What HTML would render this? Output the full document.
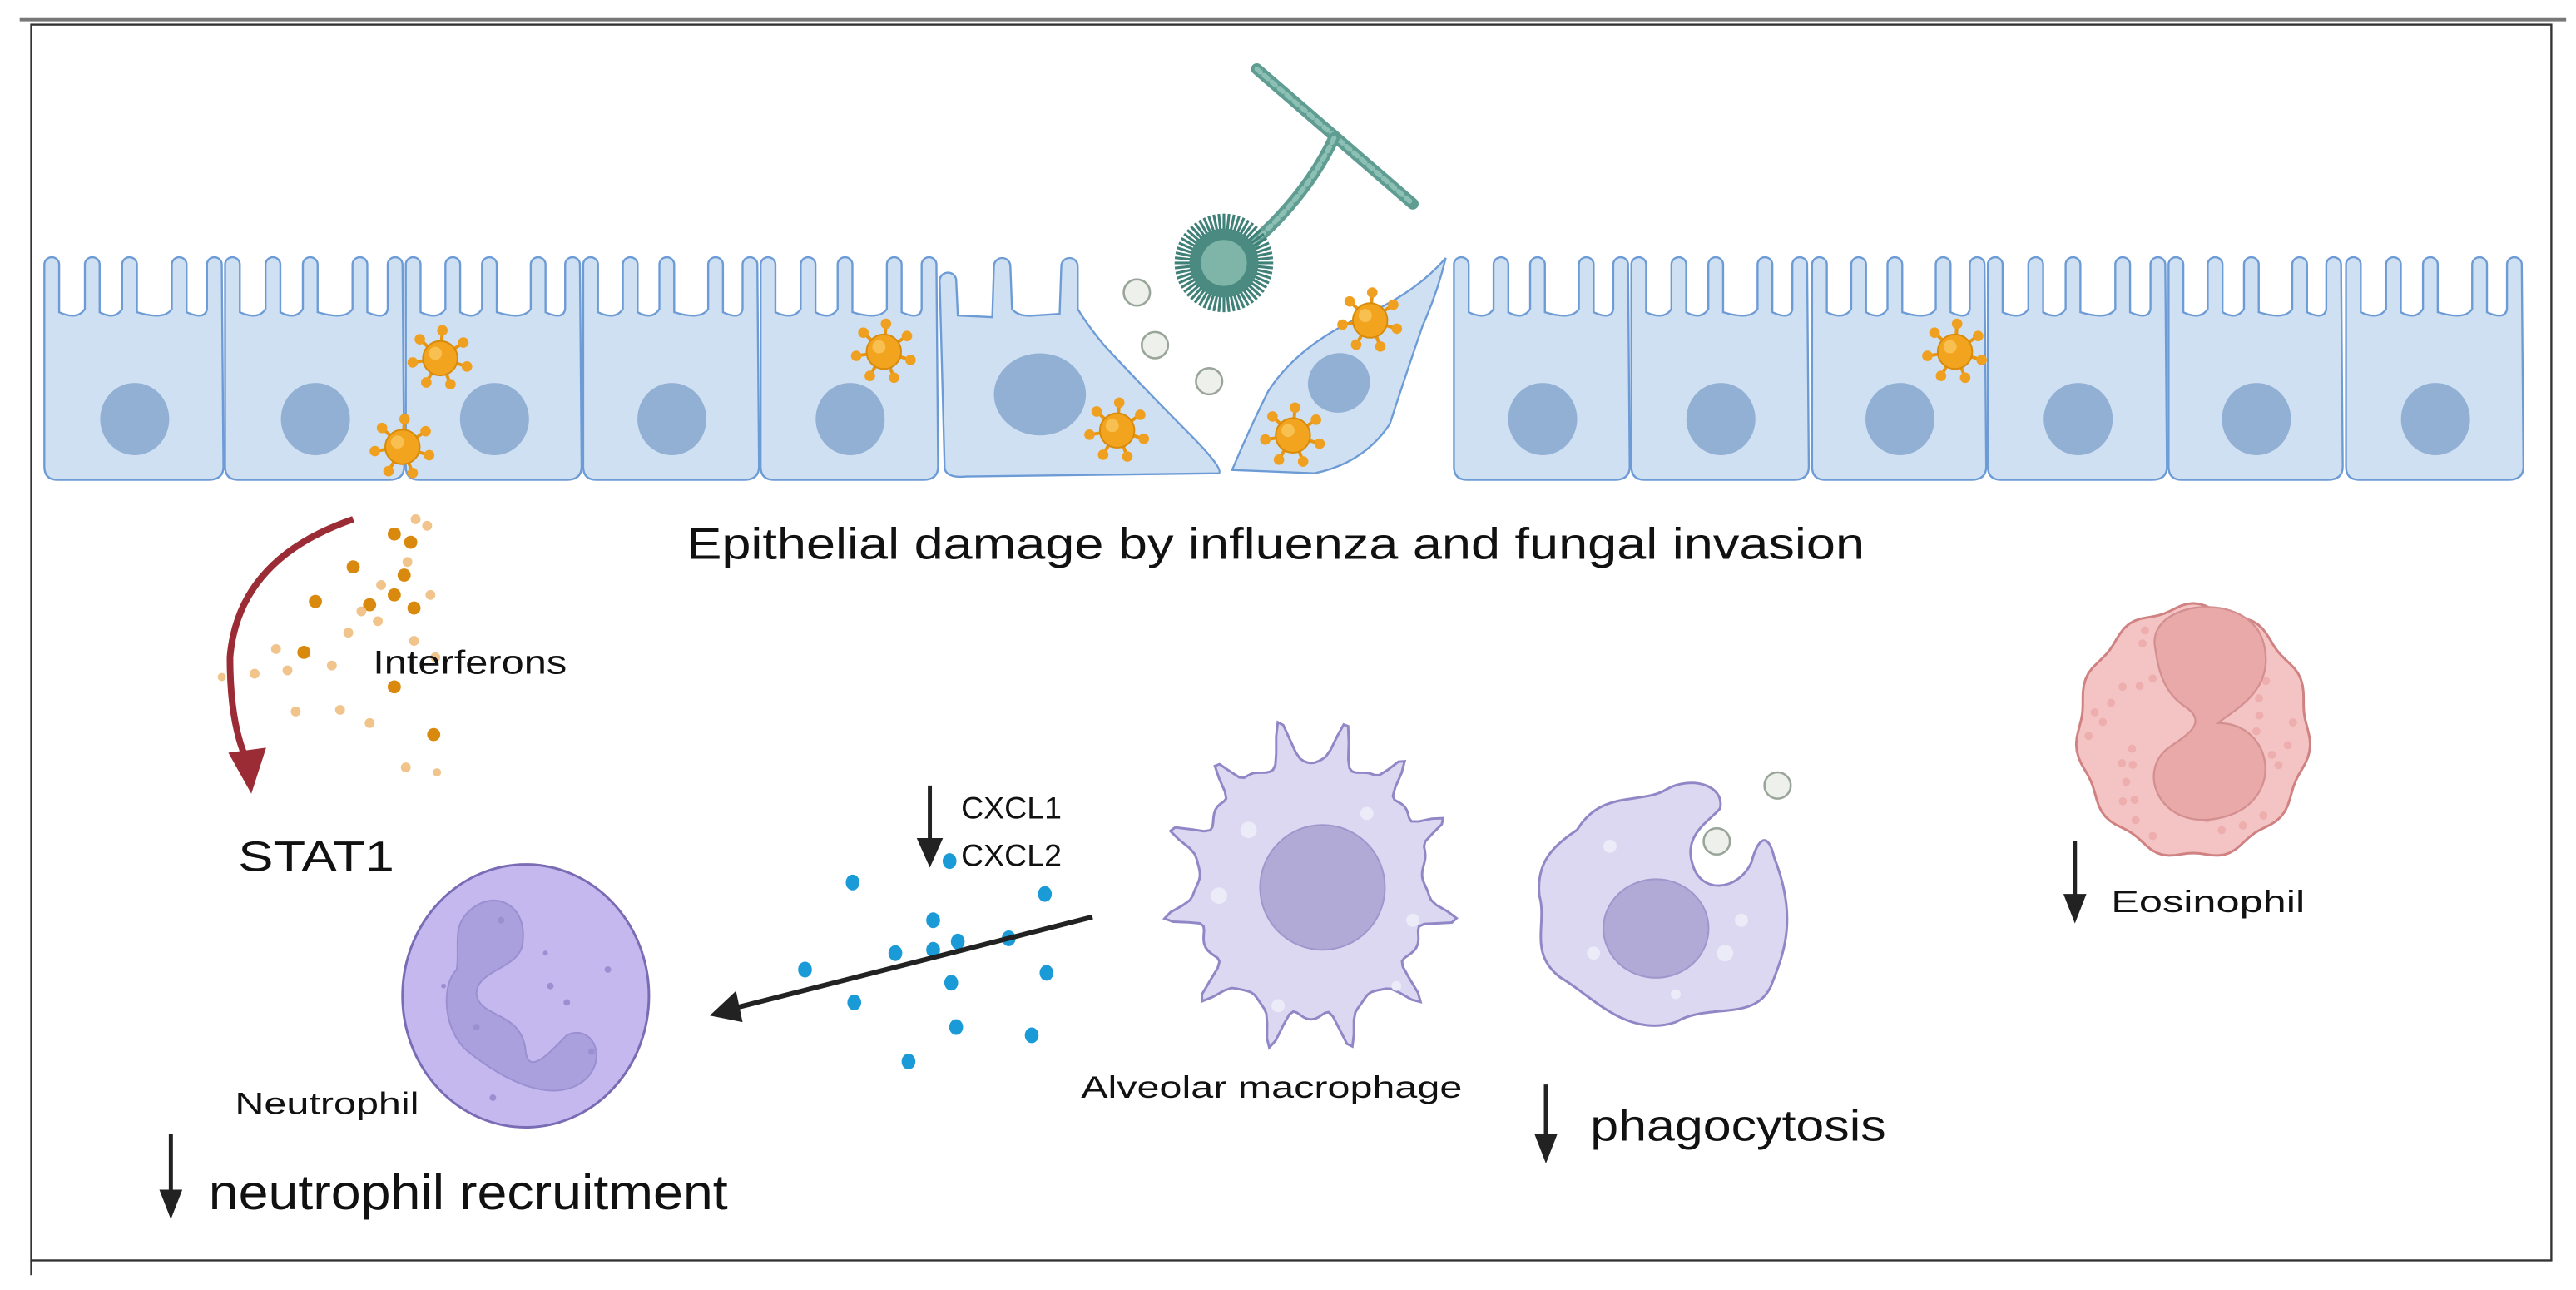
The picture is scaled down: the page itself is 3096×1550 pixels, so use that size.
<!DOCTYPE html>
<html><head><meta charset="utf-8"><style>
html,body{margin:0;padding:0;background:#fff;}
svg{display:block;}
text{font-family:"Liberation Sans",sans-serif;fill:#111;}
</style></head><body>
<svg id="s" width="3096" height="1550" viewBox="0 0 1568 785" preserveAspectRatio="none" xmlns="http://www.w3.org/2000/svg">
<defs>
<marker id="ah" viewBox="0 0 10 10" refX="9" refY="5" markerWidth="6" markerHeight="6" orient="auto"><path d="M0,0 L10,5 L0,10 Z" fill="#222"/></marker>
</defs>
<!-- frame -->
<line x1="12" y1="12" x2="1562" y2="12" stroke="#777" stroke-width="2"/>
<rect x="19" y="15" width="1534" height="752" fill="none" stroke="#333" stroke-width="1.2"/>
<line x1="19" y1="767" x2="19" y2="776" stroke="#333" stroke-width="1.2"/>
<g id="cells"></g>
<!-- damaged cell 1 -->
<path d="M575,285 L572,172 A5,5 0 0 1 582,170 L583,192 L604,193 L605,162 A5,5 0 0 1 615,162 L616,188 Q620,193 630,192 L645,191 L646,162 A5,5 0 0 1 656,162 L656,188 Q662,198 672,210 Q700,240 722,262 Q745,285 742,288 L588,290 Q576,291 575,285 Z" fill="#cfe0f2" stroke="#6d9bd6" stroke-width="1.2"/>
<ellipse cx="633" cy="240" rx="28" ry="25" fill="#92afd4"/>
<!-- damaged cell 2 -->
<path d="M750,286 Q760,262 772,238 Q790,210 830,192 Q862,178 880,157 Q875,178 866,198 Q855,230 846,258 Q830,282 800,288 Z" fill="#cfe0f2" stroke="#6d9bd6" stroke-width="1.2"/>
<ellipse cx="815" cy="233" rx="19" ry="18" transform="rotate(-20 815 233)" fill="#92afd4"/>
<!-- fungus -->
<g stroke="#5f9c92" fill="none" stroke-linecap="round">
<path d="M765,42 L860,124" stroke-width="7"/>
<path d="M765,42 L860,124" stroke-width="3" stroke="#8cc0b4" stroke-dasharray="3 3"/>
<path d="M812,84 Q795,120 760,150" stroke-width="7"/>
<path d="M812,84 Q795,120 760,150" stroke-width="3" stroke="#8cc0b4" stroke-dasharray="3 3"/>
</g>
<g id="fung"></g>
<!-- spores -->
<g fill="#eef0ec" stroke="#9aa59a" stroke-width="1.3">
<circle cx="692" cy="178" r="8"/><circle cx="703" cy="210" r="8"/><circle cx="736" cy="232" r="8"/>
<circle cx="1082" cy="478" r="8"/><circle cx="1045" cy="512" r="8"/>
</g>
<g id="virus"></g>
<text x="418" y="340" font-size="27" textLength="717" lengthAdjust="spacingAndGlyphs">Epithelial damage by influenza and fungal invasion</text>
<!-- interferons -->
<g id="ifn"></g>
<path d="M215,316 Q145,340 140,400 Q140,440 150,462" fill="none" stroke="#9b2c35" stroke-width="4"/>
<path d="M139,458 L162,455 L153,483 Z" fill="#9b2c35"/>
<text x="227" y="410" font-size="20" textLength="118" lengthAdjust="spacingAndGlyphs">Interferons</text>
<text x="145" y="530" font-size="26" textLength="95" lengthAdjust="spacingAndGlyphs">STAT1</text>
<!-- neutrophil -->
<ellipse cx="320" cy="606" rx="75" ry="80" fill="#c4b8ef" stroke="#7a6bb5" stroke-width="1.5"/>
<path d="M285,555 C300,540 322,550 318,575 C315,590 290,590 290,605 C292,620 318,615 320,640 C322,655 335,640 345,630 C362,622 372,648 352,660 C330,672 300,652 285,640 C270,628 268,600 278,590 C280,575 275,565 285,555 Z" fill="#a9a0dd" stroke="#9a8fd0"/>
<g fill="#9b8fd2"><circle cx="305" cy="560" r="2"/><circle cx="335" cy="600" r="2"/><circle cx="345" cy="610" r="2"/><circle cx="290" cy="625" r="2"/><circle cx="370" cy="590" r="2"/><circle cx="360" cy="640" r="2"/><circle cx="300" cy="668" r="2"/><circle cx="332" cy="580" r="1.5"/><circle cx="270" cy="600" r="1.5"/></g>
<text x="143" y="678" font-size="19" textLength="112" lengthAdjust="spacingAndGlyphs">Neutrophil</text>
<line x1="104" y1="690" x2="104" y2="728" stroke="#222" stroke-width="2.5"/><path d="M97,724 L111,724 L104,742 Z" fill="#222"/>
<text x="127" y="736" font-size="30" textLength="316" lengthAdjust="spacingAndGlyphs">neutrophil recruitment</text>
<!-- CXCL -->
<line x1="566" y1="478" x2="566" y2="514" stroke="#222" stroke-width="2.5"/><path d="M558,510 L574,510 L566,528 Z" fill="#222"/>
<text x="585" y="498" font-size="19">CXCL1</text>
<text x="585" y="527" font-size="19">CXCL2</text>
<g id="blue" fill="#1a9ad6"></g>
<line x1="665" y1="558" x2="445" y2="614" stroke="#222" stroke-width="3"/>
<path d="M432,618 L448,603 L452,622 Z" fill="#222"/>
<!-- macrophage -->
<path id="mac" fill="#dcd8f1" stroke="#9088c6" stroke-width="1.5"/>
<g fill="#ecebf8"><circle cx="760" cy="505" r="5"/><circle cx="832" cy="495" r="4"/><circle cx="742" cy="545" r="5"/><circle cx="860" cy="560" r="4"/><circle cx="778" cy="612" r="4"/><circle cx="850" cy="600" r="3"/></g>
<circle cx="805" cy="540" r="38" fill="#b1a9d6" stroke="#9f97cc"/>
<text x="658" y="668" font-size="19" textLength="232" lengthAdjust="spacingAndGlyphs">Alveolar macrophage</text>
<!-- phagocyte -->
<path d="M960,505 C975,480 1000,490 1015,480 C1030,472 1050,478 1047,492 C1040,500 1025,508 1030,525 C1035,545 1058,542 1066,525 C1070,510 1076,505 1080,522 C1095,560 1085,582 1078,600 C1068,622 1040,610 1020,622 C990,632 968,605 950,595 C930,580 942,562 937,545 C935,525 945,515 960,505 Z" fill="#dcd8f1" stroke="#9088c6" stroke-width="1.5"/>
<g fill="#ecebf8"><circle cx="980" cy="515" r="4"/><circle cx="1060" cy="560" r="4"/><circle cx="1050" cy="580" r="5"/><circle cx="970" cy="580" r="4"/><circle cx="1020" cy="605" r="3"/></g>
<ellipse cx="1008" cy="565" rx="32" ry="30" fill="#b1a9d6" stroke="#9f97cc"/>
<line x1="941" y1="660" x2="941" y2="692" stroke="#222" stroke-width="2.5"/><path d="M934,690 L948,690 L941,708 Z" fill="#222"/>
<text x="968" y="694" font-size="27" textLength="180" lengthAdjust="spacingAndGlyphs">phagocytosis</text>
<!-- eosinophil -->
<path id="eos" fill="#f4c4c4" stroke="#d08282" stroke-width="1.5"/>
<g id="eosd" fill="#eeaeae"></g>
<path d="M1312,395 C1305,365 1370,358 1378,392 C1385,420 1360,432 1350,440 C1385,440 1392,490 1350,498 C1315,505 1300,470 1320,455 C1330,448 1345,440 1330,430 C1318,422 1314,410 1312,395 Z" fill="#eaa9a9" stroke="#d49090" stroke-width="1.2"/>
<line x1="1263" y1="512" x2="1263" y2="546" stroke="#222" stroke-width="2.5"/><path d="M1256,544 L1270,544 L1263,562 Z" fill="#222"/>
<text x="1285" y="555" font-size="19" textLength="118" lengthAdjust="spacingAndGlyphs">Eosinophil</text>
</svg>
<script>
var NS="http://www.w3.org/2000/svg";
function el(p,t,a){var e=document.createElementNS(NS,t);for(var k in a)e.setAttribute(k,a[k]);document.getElementById(p).appendChild(e);return e;}
function cell(x0,x1){var w=x1-x0,d="M"+x0+",284 L"+x0+",161 A4.5,4.5 0 0 1 "+(x0+9)+",161 L"+(x0+9)+",190";
[0.27,0.48,0.76].forEach(function(f){var c=x0+w*f;d+=" Q"+(c-9)+",195 "+(c-4.5)+",188 L"+(c-4.5)+",161 A4.5,4.5 0 0 1 "+(c+4.5)+",161 L"+(c+4.5)+",190";});
d+=" Q"+(x1-10)+",195 "+(x1-9)+",188 L"+(x1-9)+",161 A4.5,4.5 0 0 1 "+x1+",161 L"+(x1+1)+",284 Q"+(x1+1)+",292 "+(x1-8)+",292 L"+(x0+8)+",292 Q"+x0+",292 "+x0+",284 Z";
el("cells","path",{d:d,fill:"#cfe0f2",stroke:"#6d9bd6","stroke-width":1.2});
el("cells","ellipse",{cx:x0+w/2+1,cy:255,rx:21,ry:22,fill:"#92afd4"});}
[[27,135],[137,245],[247,353],[355,461],[463,570],[885,991],[993,1100],[1103,1208],[1210,1318],[1320,1425],[1428,1535]].forEach(function(c){cell(c[0],c[1]);});
// fungus head
for(var i=0;i<60;i++){var a=i/60*Math.PI*2;el("fung","line",{x1:745+20*Math.cos(a),y1:160+20*Math.sin(a),x2:745+30*Math.cos(a),y2:160+30*Math.sin(a),stroke:"#3f8078","stroke-width":1.6});}
el("fung","circle",{cx:745,cy:160,r:21,fill:"#4a8a80"});
el("fung","circle",{cx:745,cy:160,r:14,fill:"#7fb5a8"});
// viruses
[[268,218],[245,272],[538,214],[680,262],[834,195],[787,265],[1190,214]].forEach(function(v){
for(var k=0;k<7;k++){var a=k/7*Math.PI*2+0.3;el("virus","line",{x1:v[0],y1:v[1],x2:v[0]+17*Math.cos(a),y2:v[1]+17*Math.sin(a),stroke:"#e8950f","stroke-width":2});el("virus","circle",{cx:v[0]+17*Math.cos(a),cy:v[1]+17*Math.sin(a),r:3.2,fill:"#f0a020"});}
el("virus","circle",{cx:v[0],cy:v[1],r:10.5,fill:"#f2a41e",stroke:"#d88a0c"});
el("virus","circle",{cx:v[0]-3,cy:v[1]-3,r:4,fill:"#f8c050"});});
// interferon dots
[[253,316,3,1],[240,325,4,0],[250,330,4,0],[248,342,3,1],[246,350,4,0],[215,345,4,0],[232,356,3,1],[225,368,4,0],[240,362,4,0],[192,366,4,0],[220,372,3,1],[252,370,4,0],[185,397,4,0],[212,385,3,1],[252,390,3,1],[262,362,3,1],[230,378,3,1],[168,395,3,1],[240,418,4,0],[202,405,3,1],[175,408,3,1],[155,410,3,1],[265,400,3,1],[225,440,3,1],[207,432,3,1],[180,433,3,1],[264,447,4,0],[247,467,3,1],[266,470,2.5,1],[135,412,2.5,1],[260,320,3,1]].forEach(function(p){
el("ifn","circle",{cx:p[0],cy:p[1],r:p[2],fill:p[3]?"#f0c48a":"#d98a0e"});});
// blue dots
[[578,524],[519,537],[636,544],[568,560],[614,571],[545,580],[568,578],[583,573],[490,590],[579,598],[520,610],[637,592],[582,625],[628,630],[553,646]].forEach(function(p){el("blue","ellipse",{cx:p[0],cy:p[1],rx:4.2,ry:4.8});});
// macrophage
(function(){var d="",N=200,sp=[0.2,0.75,1.3,1.85,2.4,2.95,3.5,4.0,4.5,4.95,5.4,5.85];
for(var i=0;i<=N;i++){var a=i/N*Math.PI*2,r=1;sp.forEach(function(s){var dd=Math.atan2(Math.sin(a-s),Math.cos(a-s));r+=0.3*Math.exp(-dd*dd/0.004);});
r+=0.03*Math.sin(a*17);var x=798+70*r*Math.cos(a),y=540+78*r*Math.sin(a);d+=(i?"L":"M")+x.toFixed(1)+","+y.toFixed(1);}
document.getElementById("mac").setAttribute("d",d+"Z");})();
// eosinophil
(function(){var d="",N=120;for(var i=0;i<=N;i++){var a=i/N*Math.PI*2,r=1+0.025*Math.sin(a*11);d+=(i?"L":"M")+(1335+70*r*Math.cos(a)).toFixed(1)+","+(445+76*r*Math.sin(a)).toFixed(1);}
document.getElementById("eos").setAttribute("d",d+"Z");
for(var j=0;j<45;j++){var a=j*2.4,rr=0.55+0.4*((j*37)%10)/10;el("eosd","circle",{cx:1335+70*rr*Math.cos(a),cy:445+76*rr*Math.sin(a),r:2.5});}})();
</script>
</body></html>
